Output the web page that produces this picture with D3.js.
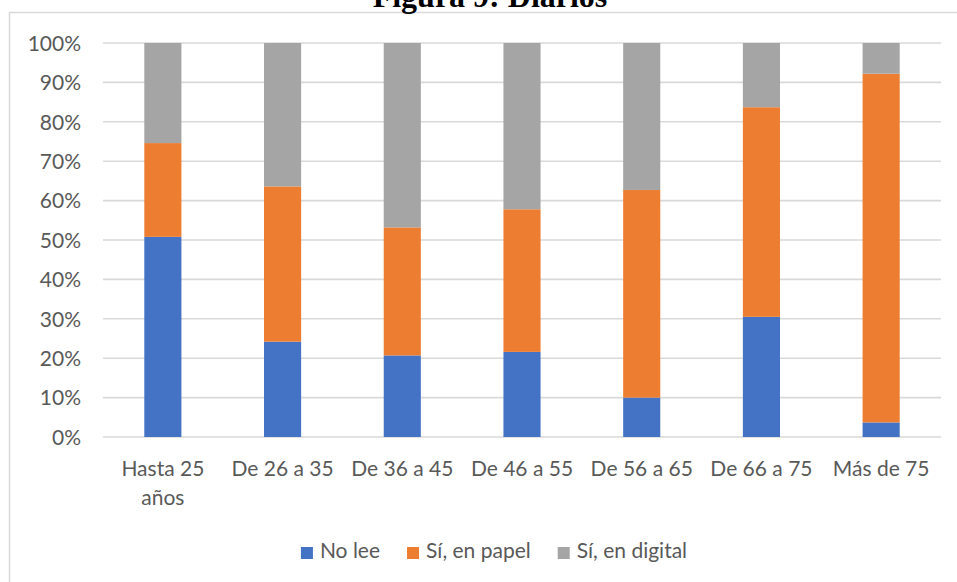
<!DOCTYPE html>
<html>
<head>
<meta charset="utf-8">
<script src="https://cdn.jsdelivr.net/npm/d3@7"></script>
<style>
  html, body { margin: 0; padding: 0; background: #ffffff; }
  svg { display: block; }
</style>
</head>
<body>
<svg id="chart" width="957" height="582"></svg>
<script>
// Lectura de diarios por grupo de edad (porcentajes)
const categories = ["Hasta 25 años", "De 26 a 35", "De 36 a 45", "De 46 a 55", "De 56 a 65", "De 66 a 75", "Más de 75"];
const seriesNames = ["No lee", "Sí, en papel", "Sí, en digital"];
const noLee     = [50.8, 24.2, 20.7, 21.6, 10.0, 30.5, 3.7];
const enPapel   = [23.8, 39.4, 32.5, 36.2, 52.7, 53.2, 88.5];
const enDigital = [25.4, 36.4, 46.8, 42.2, 37.3, 16.3, 7.8];
const yTicks = [0, 10, 20, 30, 40, 50, 60, 70, 80, 90, 100];
const yTickLabels = ["0%", "10%", "20%", "30%", "40%", "50%", "60%", "70%", "80%", "90%", "100%"];
const colors = ["#4472C4", "#ED7D31", "#A5A5A5"];

const rows = categories.map((c, i) => ({
  cat: c,
  "No lee": noLee[i],
  "Sí, en papel": enPapel[i],
  "Sí, en digital": enDigital[i]
}));

const svg = d3.select("#chart");
const FONT = "Lato, 'Open Sans', sans-serif";
const TEXT = "#595959";

// Marco del área del gráfico
svg.append("rect")
  .attr("x", 9.5).attr("y", 12.5)
  .attr("width", 1000).attr("height", 700)
  .attr("fill", "#ffffff")
  .attr("stroke", "#d9d9d9").attr("stroke-width", 1.5);

// Título
svg.append("text")
  .attr("x", 490).attr("y", 7)
  .attr("text-anchor", "middle")
  .attr("font-family", "'Liberation Serif', 'Times New Roman', serif")
  .attr("font-weight", "bold")
  .attr("font-size", 32)
  .attr("fill", "#000000")
  .text("Figura 9: Diarios");

const plot = { left: 103, right: 941, top: 43, bottom: 437 };

const x = d3.scaleBand()
  .domain(categories)
  .range([plot.left, plot.right])
  .paddingInner(0.69)
  .paddingOuter(0.345);

const y = d3.scaleLinear()
  .domain([0, 100])
  .range([plot.bottom, plot.top]);

// Líneas de cuadrícula horizontales
svg.append("g")
  .selectAll("line")
  .data(yTicks)
  .join("line")
  .attr("x1", plot.left).attr("x2", plot.right)
  .attr("y1", d => y(d)).attr("y2", d => y(d))
  .attr("stroke", "#d9d9d9").attr("stroke-width", 1.6);

// Eje Y
const yAxis = d3.axisLeft(y)
  .tickValues(yTicks)
  .tickFormat((d, i) => yTickLabels[i])
  .tickSize(0)
  .tickPadding(0);
const gy = svg.append("g")
  .attr("transform", `translate(81,0)`)
  .call(yAxis);
gy.select(".domain").remove();
gy.selectAll("text")
  .attr("font-family", FONT)
  .attr("font-size", 21)
  .attr("fill", TEXT)
  .attr("dy", "0.35em");

// Barras apiladas
const stacked = d3.stack().keys(seriesNames)(rows);
svg.append("g")
  .selectAll("g")
  .data(stacked)
  .join("g")
  .attr("fill", (d, i) => colors[i])
  .selectAll("rect")
  .data(d => d)
  .join("rect")
  .attr("x", d => x(d.data.cat))
  .attr("width", x.bandwidth())
  .attr("y", d => y(d[1]))
  .attr("height", d => y(d[0]) - y(d[1]));

// Eje X con etiquetas en varias líneas
const xAxis = d3.axisBottom(x).tickSize(0).tickPadding(0);
const gx = svg.append("g")
  .attr("transform", `translate(0,${plot.bottom})`)
  .call(xAxis);
gx.select(".domain").remove();
gx.selectAll("text")
  .attr("font-family", FONT)
  .attr("font-size", 21)
  .attr("fill", TEXT)
  .attr("y", 39)
  .attr("dy", 0)
  .each(function () { wrap(d3.select(this), x.step() - 8); });

function wrap(textSel, width) {
  const words = textSel.text().split(/\s+/);
  const xPos = textSel.attr("x") || 0;
  textSel.text(null);
  let line = [];
  let lineNo = 0;
  let tspan = textSel.append("tspan").attr("x", xPos).attr("dy", 0);
  words.forEach(w => {
    line.push(w);
    tspan.text(line.join(" "));
    if (tspan.node().getComputedTextLength() > width && line.length > 1) {
      line.pop();
      tspan.text(line.join(" "));
      line = [w];
      lineNo++;
      tspan = textSel.append("tspan").attr("x", xPos).attr("dy", 29).text(w);
    }
  });
}

// Leyenda
const legend = svg.append("g");
let cursor = 0;
seriesNames.forEach((name, i) => {
  const item = legend.append("g").attr("transform", `translate(${cursor},0)`);
  item.append("rect")
    .attr("x", 0).attr("y", -11)
    .attr("width", 12).attr("height", 12)
    .attr("fill", colors[i]);
  const t = item.append("text")
    .attr("x", 19).attr("y", 0)
    .attr("font-family", FONT)
    .attr("font-size", 21)
    .attr("fill", TEXT)
    .text(name);
  cursor += 19 + t.node().getComputedTextLength() + 27;
});
const legendWidth = cursor - 27;
legend.attr("transform", `translate(${494 - legendWidth / 2},558)`);
</script>
</body>
</html>
